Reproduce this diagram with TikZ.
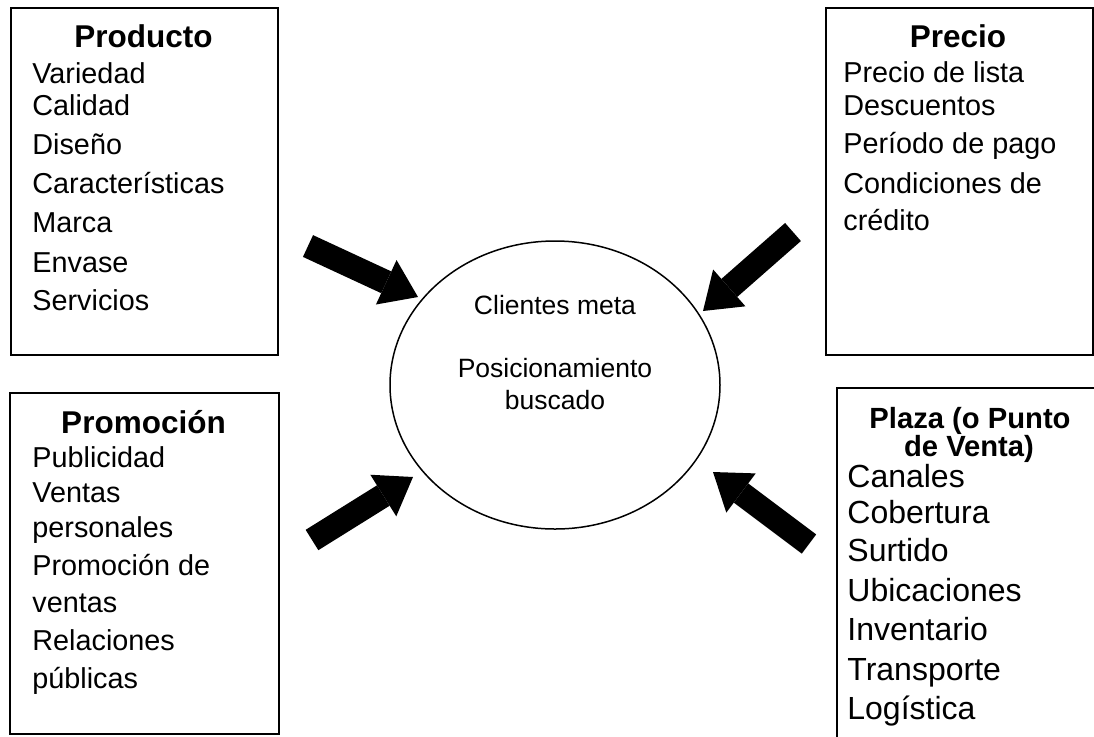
\documentclass[tikz,border=0pt]{standalone}
\usepackage{fontspec}
\setmainfont{Liberation Sans}
\usetikzlibrary{arrows.meta,shapes.geometric}

\tikzset{
  box/.style={draw, line width=1pt, anchor=north west, inner sep=0pt},
  head/.style={font=\fontsize{15.75}{18}\selectfont\bfseries, anchor=base, inner sep=0pt},
  item/.style={font=\fontsize{14.4}{17}\selectfont, anchor=base west, inner sep=0pt},
  core/.style={font=\fontsize{13.25}{16}\selectfont, anchor=base, inner sep=0pt},
  push/.style={line width=12pt, -{Triangle[width=24.5pt,length=17.5pt,line width=0pt]}},
}

\begin{document}
\begin{tikzpicture}[x=0.5pt, y=-0.5pt]
  \useasboundingbox[fill=white] (0,0) rectangle (1094,736);
  \clip (0,0) rectangle (1094,736);

  % the four P boxes
  \node[box, minimum width=133.5pt, minimum height=173.5pt] (prod) at (10,7) {};
  \node[box, minimum width=133.5pt, minimum height=173.5pt] (prec) at (825,7) {};
  \node[box, minimum width=134.5pt, minimum height=170.5pt] (prom) at (9,392) {};
  \node[box, minimum width=134.5pt, minimum height=186.5pt] (plaz) at (836,387) {};

  \node[head] (prodT) at (143.5,47) {Producto};
  \foreach \yy/\txt [count=\i] in {83/Variedad, 115/Calidad, 154/Diseño,
      193/Características, 232/Marca, 272/Envase, 310/Servicios}
    \node[item] (prod\i) at (32,\yy) {\txt};

  \node[head] (precT) at (958,47) {Precio};
  \foreach \yy/\txt [count=\i] in {82/Precio de lista, 115/Descuentos,
      153/Período de pago, 193/Condiciones de, 230/crédito}
    \node[item] (prec\i) at (843,\yy) {\txt};

  \node[head] (promT) at (143.5,433) {Promoción};
  \foreach \yy/\txt [count=\i] in {467/Publicidad, 502/Ventas, 537/personales,
      575/Promoción de, 612/ventas, 650/Relaciones, 688/públicas}
    \node[item] (prom\i) at (32,\yy) {\txt};

  \node[head, font=\fontsize{14.6}{17}\selectfont\bfseries] (plazT) at (970,428) {Plaza (o Punto};
  \node[head, font=\fontsize{14.6}{17}\selectfont\bfseries] (plazU) at (969,456) {de Venta)};
  \foreach \yy/\txt [count=\i] in {487/Canales, 523/Cobertura, 561/Surtido,
      601/Ubicaciones, 640/Inventario, 680/Transporte, 719/Logística}
    \node[item, font=\fontsize{16}{19}\selectfont] (plaz\i) at (847,\yy) {\txt};

  % target in the middle
  \node[draw, ellipse, line width=0.75pt, minimum width=165pt, minimum height=144pt,
        inner sep=0pt] (mix) at (555,385) {};
  \node[core] (meta) at (555,314) {Clientes meta};
  \node[core] (pos1) at (555,377) {Posicionamiento};
  \node[core] (pos2) at (555,409) {buscado};

  % block arrows
  \coordinate (prodTail) at (308,246);
  \coordinate (prodTip)  at (418,297);
  \coordinate (precTail) at (793,232);
  \coordinate (precTip)  at (703,311);
  \coordinate (promTail) at (312,540);
  \coordinate (promTip)  at (413,477);
  \coordinate (plazTail) at (809,544);
  \coordinate (plazTip)  at (713,472);
  \draw[push] (prodTail) -- (prodTip);
  \draw[push] (precTail) -- (precTip);
  \draw[push] (promTail) -- (promTip);
  \draw[push] (plazTail) -- (plazTip);
\end{tikzpicture}
\end{document}
